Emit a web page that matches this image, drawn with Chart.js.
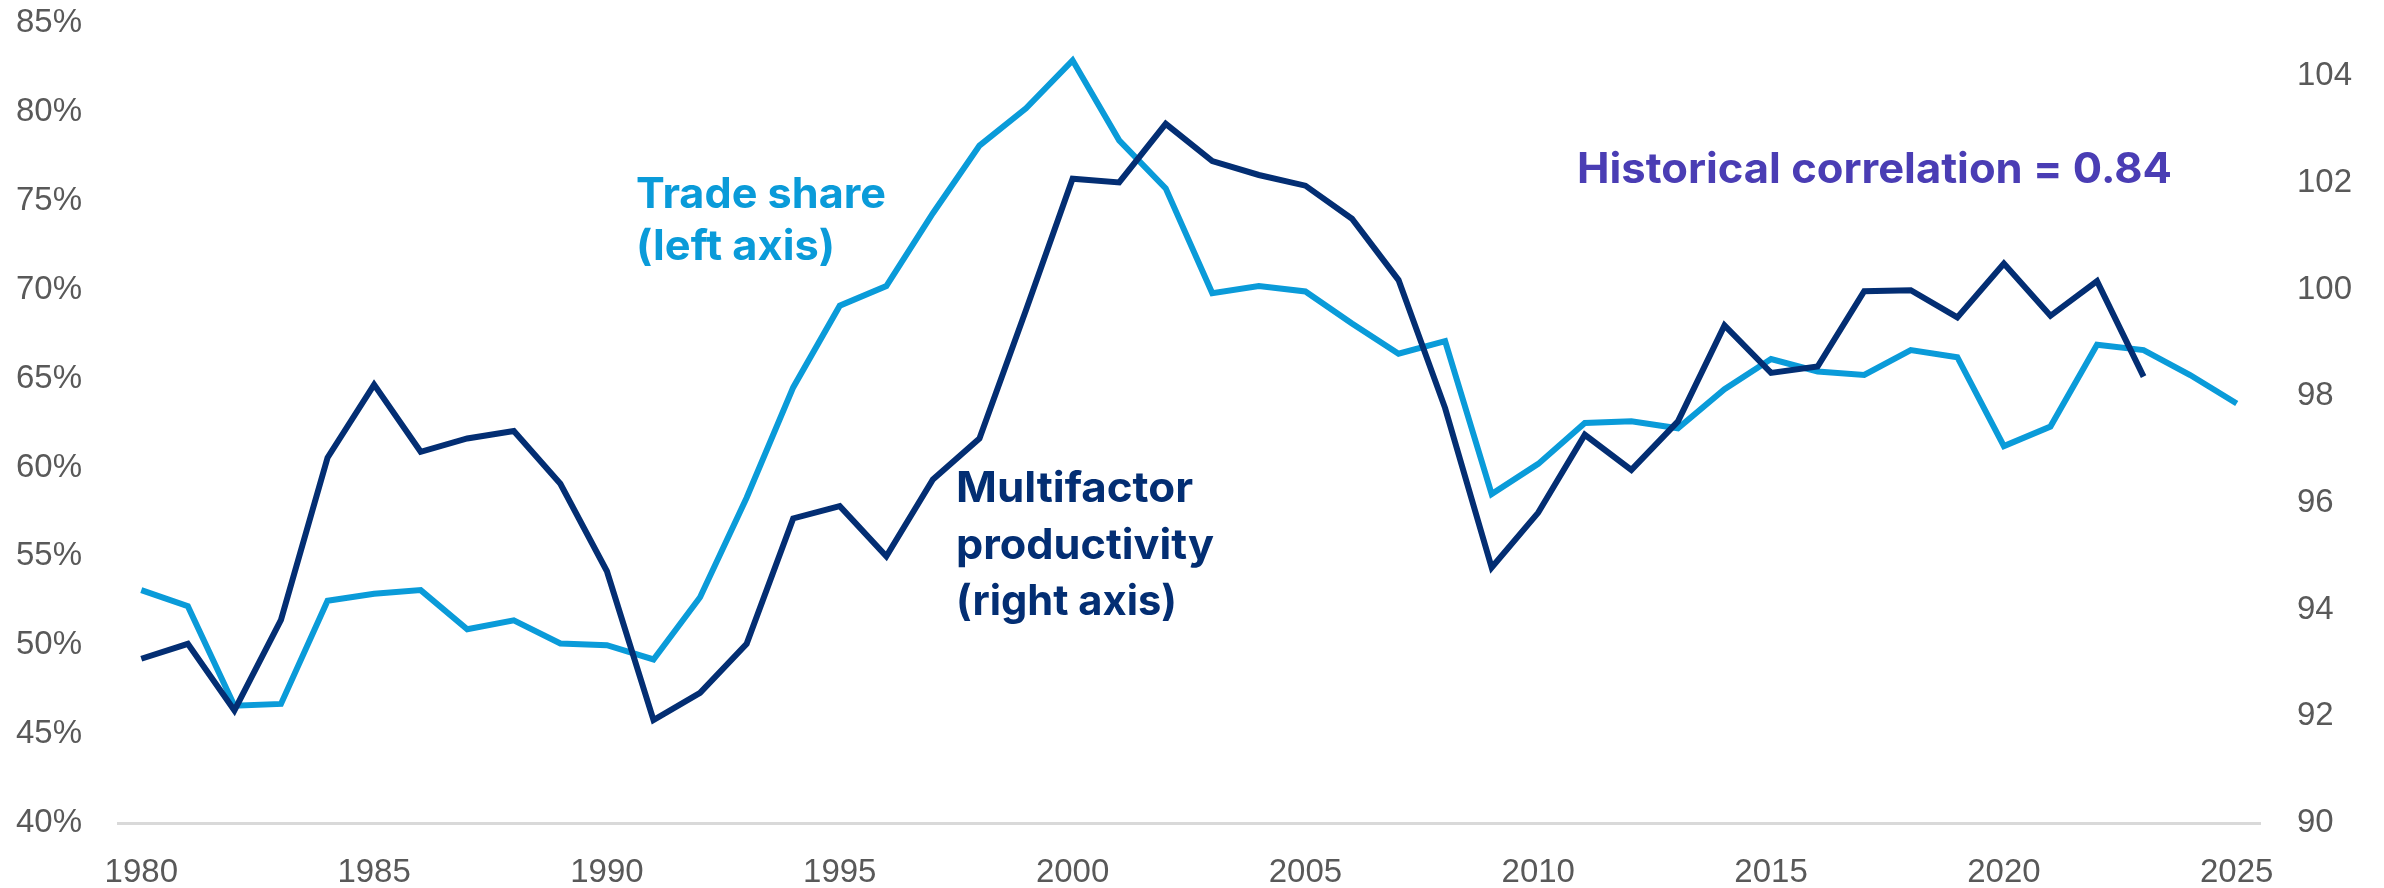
<!DOCTYPE html>
<html>
<head>
<meta charset="utf-8">
<script src="https://cdn.jsdelivr.net/npm/chart.js@4.4.1/dist/chart.umd.min.js"></script>
<style>
  html, body { margin: 0; padding: 0; background: #ffffff; }
  #wrap { width: 2384px; height: 888px; position: relative; }
  canvas { display: block; }
</style>
</head>
<body>
<div id="wrap"><canvas id="c" width="2384" height="888"></canvas></div>
<script>
// ---- Data ----
const years = [1980,1981,1982,1983,1984,1985,1986,1987,1988,1989,
               1990,1991,1992,1993,1994,1995,1996,1997,1998,1999,
               2000,2001,2002,2003,2004,2005,2006,2007,2008,2009,
               2010,2011,2012,2013,2014,2015,2016,2017,2018,2019,
               2020,2021,2022,2023,2024,2025];

// Trade share, % (left axis)
const tradeShare = [53.1,52.2,46.6,46.7,52.5,52.9,53.1,50.9,51.4,50.1,
                    50.0,49.2,52.7,58.3,64.5,69.1,70.2,74.3,78.1,80.2,
                    82.9,78.4,75.7,69.8,70.2,69.9,68.1,66.4,67.1,58.5,
                    60.2,62.5,62.6,62.2,64.4,66.1,65.4,65.2,66.6,66.2,
                    61.2,62.3,66.9,66.6,65.2,63.6];

// Multifactor productivity, index (right axis)
const mfp = [93.08,93.36,92.11,93.81,96.85,98.22,96.96,97.21,97.35,96.36,
             94.72,91.93,92.44,93.36,95.71,95.94,95.00,96.44,97.21,99.62,
             102.08,102.01,103.11,102.41,102.15,101.95,101.33,100.18,97.78,94.79,
             95.82,97.28,96.62,97.53,99.33,98.44,98.56,99.97,99.99,99.48,
             100.49,99.51,100.16,98.37,null,null];

const leftTicks = [40,45,50,55,60,65,70,75,80,85];
const rightTicks = [90,92,94,96,98,100,102,104];
const xTickYears = [1980,1985,1990,1995,2000,2005,2010,2015,2020,2025];

const labelsText = [
  { lines: ["Trade share", "(left axis)"], color: "#0A9BD9", x: 636, y: 208, dy: 52, widths: [250, 199] },
  { lines: ["Multifactor", "productivity", "(right axis)"], color: "#032E73", x: 956, y: 502, dy: 56.5, widths: [237, 258, 221] },
  { lines: ["Historical correlation = 0.84"], color: "#4A3DB4", x: 1577, y: 183, dy: 0, widths: [595] }
];

// ---- Colors / styles ----
const LIGHT = "#0A9BD9";
const NAVY = "#032E73";
const TICK = "#595959";
const tickFont = { family: "'Liberation Sans', Arial, sans-serif", size: 33 };

const annotationPlugin = {
  id: "annot",
  afterDatasetsDraw(chart) {
    const ctx = chart.ctx;
    ctx.save();
    ctx.font = "bold 42px Inter, Roboto, sans-serif";
    ctx.textBaseline = "alphabetic";
    ctx.textAlign = "left";
    labelsText.forEach(t => {
      ctx.fillStyle = t.color;
      t.lines.forEach((ln, i) => {
        const w = ctx.measureText(ln).width;
        const sx = t.widths[i] / w;
        ctx.save();
        ctx.translate(t.x, t.y + i * t.dy);
        ctx.scale(sx, 1);
        ctx.fillText(ln, 0, 0);
        ctx.restore();
      });
    });
    ctx.restore();
  }
};

new Chart(document.getElementById("c"), {
  type: "line",
  data: {
    labels: years.map(String),
    datasets: [
      {
        label: "Multifactor productivity (right axis)",
        data: mfp,
        yAxisID: "y1",
        borderColor: NAVY,
        backgroundColor: NAVY,
        borderWidth: 6,
        pointRadius: 0,
        tension: 0,
        spanGaps: false
      },
      {
        label: "Trade share (left axis)",
        data: tradeShare,
        yAxisID: "y",
        borderColor: LIGHT,
        backgroundColor: LIGHT,
        borderWidth: 6,
        pointRadius: 0,
        tension: 0
      }
    ]
  },
  options: {
    responsive: false,
    animation: false,
    devicePixelRatio: 1,
    layout: { autoPadding: false, padding: { top: 23, left: 0, right: 0, bottom: 0 } },
    plugins: { legend: { display: false }, tooltip: { enabled: false } },
    scales: {
      x: {
        type: "category",
        offset: true,
        grid: { display: false, drawTicks: false },
        border: { display: true, color: "#D9D9D9", width: 3 },
        ticks: {
          autoSkip: false,
          maxRotation: 0,
          padding: 30,
          color: TICK,
          font: tickFont,
          callback: function (val, idx) {
            const yr = years[idx];
            return xTickYears.includes(yr) ? String(yr) : "";
          }
        },
        afterFit(scale) { scale.height = 65; scale.paddingLeft = 0; scale.paddingRight = 0; }
      },
      y: {
        position: "left",
        min: leftTicks[0],
        max: leftTicks[leftTicks.length - 1],
        grid: { display: false, drawTicks: false },
        border: { display: false },
        ticks: {
          stepSize: 5,
          padding: 36,
          color: TICK,
          font: tickFont,
          callback: v => v + "%"
        },
        afterBuildTicks(scale) { scale.ticks = leftTicks.map(v => ({ value: v })); },
        afterFit(scale) { scale.width = 118; scale.paddingTop = 0; scale.paddingBottom = 0; }
      },
      y1: {
        position: "right",
        min: 90,
        max: 105,
        grid: { display: false, drawTicks: false },
        border: { display: false },
        ticks: {
          stepSize: 2,
          padding: 37,
          color: TICK,
          font: tickFont
        },
        afterBuildTicks(scale) { scale.ticks = rightTicks.map(v => ({ value: v })); },
        afterFit(scale) { scale.width = 124; scale.paddingTop = 0; scale.paddingBottom = 0; }
      }
    }
  },
  plugins: [annotationPlugin]
});
</script>
</body>
</html>
